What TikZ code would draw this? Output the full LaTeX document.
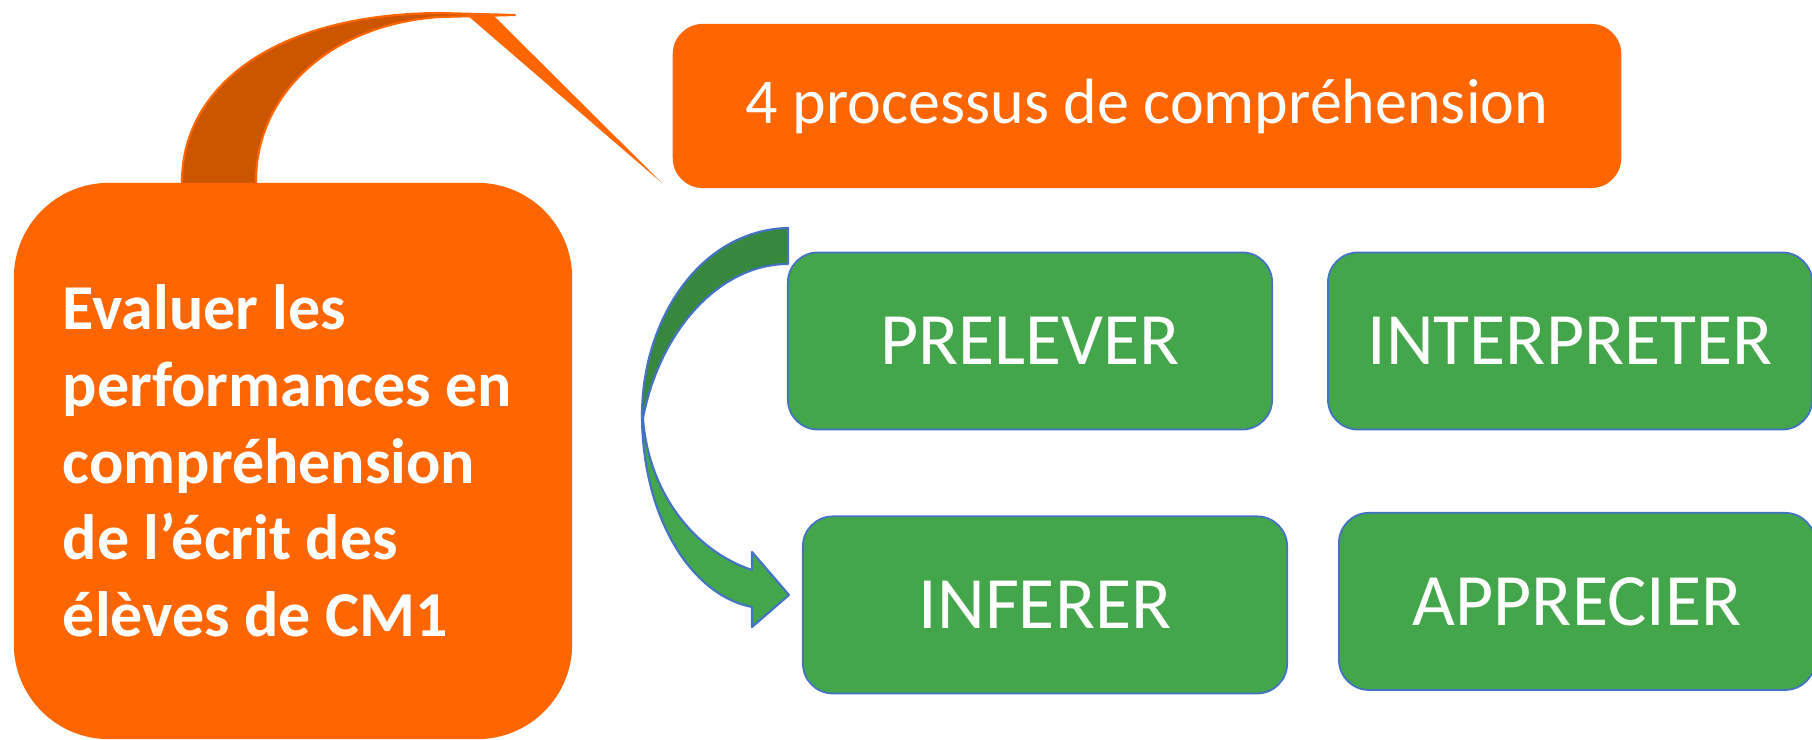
\documentclass[tikz,border=0pt]{standalone}
\usepackage{fontspec}
\setmainfont{Carlito}
\usepackage{tikz}
\usetikzlibrary{positioning}
\definecolor{orangefill}{RGB}{255,102,0}
\definecolor{orangedeep}{RGB}{204,85,0}
\definecolor{greenfill}{RGB}{67,166,75}
\definecolor{greendeep}{RGB}{55,135,62}
\definecolor{edgeblue}{RGB}{68,114,196}
\tikzstyle{mainbox} = [rectangle, rounded corners=0.95cm, fill=orangefill, minimum width=5.58cm, minimum height=5.56cm, text width=4.6cm, inner xsep=0.49cm, align=flush left, text=white, font=\fontsize{18.2}{21.8}\selectfont\bfseries]
\tikzstyle{titlebox} = [rectangle, rounded corners=0.3cm, fill=orangefill, minimum width=9.48cm, minimum height=1.64cm, text=white, font=\fontsize{18.2}{22}\selectfont]
\tikzstyle{stage} = [rectangle, rounded corners=0.3cm, fill=greenfill, draw=edgeblue, line width=0.5pt, minimum width=4.84cm, minimum height=1.77cm, text=white, font=\fontsize{21}{25}\selectfont]
\tikzstyle{bandarrow} = [line width=0.6pt, line join=round]

\begin{document}
\begin{tikzpicture}[x=0.01cm, y=-0.01cm]
                \useasboundingbox (0,0) rectangle (1812,740);

                \draw [bandarrow, draw=orangefill, fill=orangedeep] (182,185) .. controls (180,90) and (270,14) .. (440,13) -- (515,15) -- (440,17) .. controls (330,24) and (254,95) .. (256,185) -- cycle;
                \fill [orangefill] (467,15) -- (493,15) -- (662,183) -- cycle;

                \draw [bandarrow, draw=edgeblue, fill=greendeep] (788,228) .. controls (700,230) and (642,320) .. (642,415) -- (643,418) .. controls (660,330) and (720,264) .. (788,264) -- cycle;
                \draw [bandarrow, draw=edgeblue, fill=greenfill] (642,415) .. controls (642,515) and (690,595) .. (752,607) -- (752,627) -- (789,595) -- (752,552) -- (752,570) .. controls (692,550) and (648,490) .. (643,418) -- cycle;

                \node (evaluer) [mainbox] at (293,461) {Evaluer les performances en compréhension de l’écrit des élèves de CM1};
                \node (processus) [titlebox] at (1147,106) {4 processus de compréhension};
                \node (prelever) [stage] at (1030,341) {PRELEVER};
                \node (interpreter) [stage, right=0.54cm of prelever] {INTERPRETER};
                \node (inferer) [stage, below=0.85cm of prelever, xshift=0.15cm] {INFERER};
                \node (apprecier) [stage, minimum width=4.76cm, right=0.5cm of inferer, yshift=0.035cm] {APPRECIER};
            \end{tikzpicture}
\end{document}
